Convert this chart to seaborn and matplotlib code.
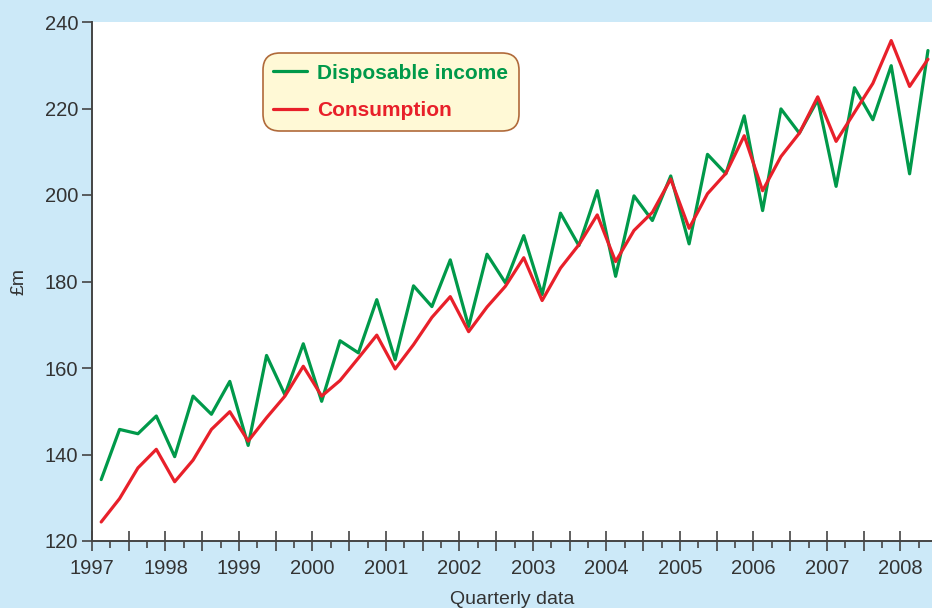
import numpy as np
import pandas as pd
import seaborn as sns
import matplotlib.pyplot as plt
from matplotlib.ticker import MultipleLocator, FuncFormatter

# quarterly data, 1997 Q1 .. 2008 Q2
years = [y for y in range(1997, 2009) for _ in range(4)][:46]
quarters = [1, 2, 3, 4] * 12
quarters = quarters[:46]

income = [134.2, 145.8, 144.8, 148.9, 139.5, 153.5, 149.3, 156.9, 142.1, 162.9,
          153.8, 165.6, 152.3, 166.3, 163.5, 175.8, 161.9, 179.0, 174.2, 185.0,
          169.6, 186.3, 179.7, 190.6, 177.0, 195.8, 188.3, 201.0, 181.2, 199.8,
          194.1, 204.4, 188.7, 209.4, 204.9, 218.3, 196.4, 219.9, 214.3, 222.0,
          202.0, 224.8, 217.4, 229.9, 204.9, 233.4]
consumption = [124.4, 129.8, 136.9, 141.2, 133.7, 138.7, 145.8, 149.9, 143.1, 148.5,
               153.5, 160.4, 153.5, 157.1, 162.3, 167.6, 159.8, 165.4, 171.7, 176.5,
               168.4, 174.1, 178.9, 185.5, 175.6, 183.1, 188.5, 195.4, 184.6, 191.8,
               196.0, 203.7, 192.3, 200.3, 205.0, 213.7, 201.0, 208.9, 214.3, 222.7,
               212.4, 219.1, 225.8, 235.7, 225.1, 231.4]

series_names = ["Disposable income", "Consumption"]
colors = ["#00994a", "#e8202a"]

t = [y + (q - 1) / 4 + 0.125 for y, q in zip(years, quarters)]
df = pd.DataFrame({
    "time": t * 2,
    "value": income + consumption,
    "series": [series_names[0]] * len(t) + [series_names[1]] * len(t),
})

sns.set_theme(style="white")
plt.rcParams["font.family"] = ["Liberation Sans", "DejaVu Sans"]

bg = "#cce9f8"
fig = plt.figure(figsize=(9.32, 6.08), dpi=100, facecolor=bg)
ax = fig.add_axes([92 / 932, 1 - 541 / 608, 1 - 92 / 932, (541 - 22) / 608])
ax.set_facecolor("white")

sns.lineplot(data=df, x="time", y="value", hue="series", palette=colors,
             linewidth=2.3, ax=ax)

ax.set_xlim(1997, 2008.43)
ax.set_ylim(120, 240)

ax.xaxis.set_major_locator(MultipleLocator(0.5))
ax.xaxis.set_minor_locator(MultipleLocator(0.25))
ax.xaxis.set_major_formatter(FuncFormatter(lambda v, p: f"{int(round(v))}" if abs(v - round(v)) < 1e-6 else ""))
ax.yaxis.set_major_locator(MultipleLocator(20))

spine_c = "#444444"
for s in ["top", "right"]:
    ax.spines[s].set_visible(False)
for s in ["left", "bottom"]:
    ax.spines[s].set_color(spine_c)
    ax.spines[s].set_linewidth(1.4)

ax.tick_params(axis="x", which="major", direction="inout", length=14, width=1.2,
               color=spine_c, labelsize=14.5, labelcolor="#333333", pad=6, bottom=True)
ax.tick_params(axis="x", which="minor", direction="out", length=5, width=1.2,
               color=spine_c, bottom=True)
ax.tick_params(axis="y", which="major", direction="out", length=7, width=1.2,
               color=spine_c, labelsize=14.5, labelcolor="#333333", pad=3, left=True)

ax.set_xlabel("Quarterly data", fontsize=14, color="#333333", labelpad=9)
ax.set_ylabel("£m", fontsize=14, color="#333333", labelpad=12)

leg = ax.legend(loc="upper left", bbox_to_anchor=(0.2036, 0.94), borderaxespad=0,
                frameon=True, fancybox=True, handlelength=1.6, handletextpad=0.5,
                labelspacing=0.9, borderpad=0.5,
                prop={"weight": "bold", "size": 15})
frame = leg.get_frame()
frame.set_facecolor("#fff9d6")
frame.set_edgecolor("#b06a3a")
frame.set_linewidth(1.2)
frame.set_alpha(1)
frame.set_boxstyle("round,pad=0,rounding_size=0.8")
for txt, c in zip(leg.get_texts(), colors):
    txt.set_color(c)
for line in leg.get_lines():
    line.set_linewidth(2.3)

fig.savefig("out.png", dpi=100, facecolor=bg)
